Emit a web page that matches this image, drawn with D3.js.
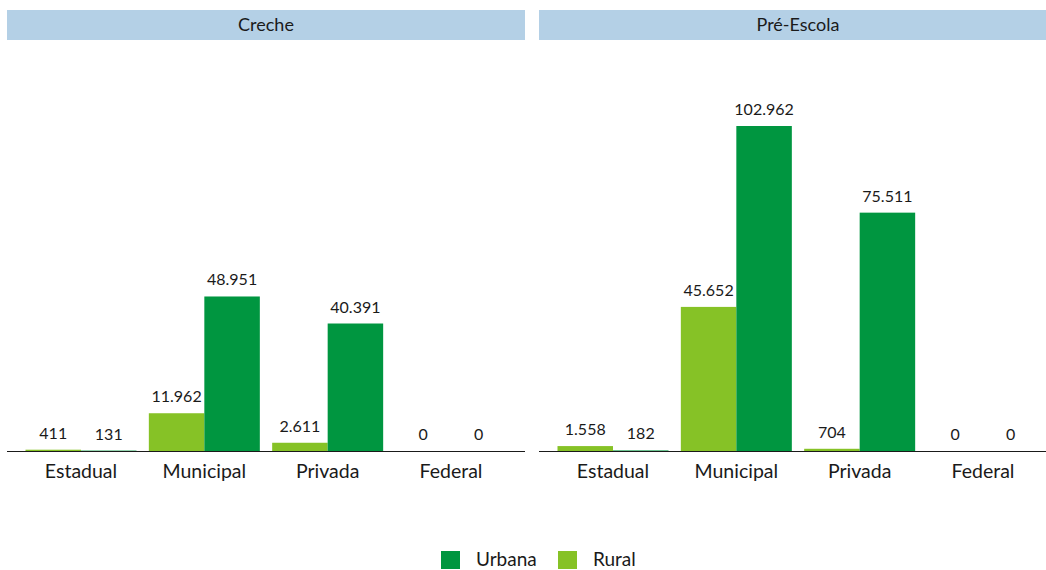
<!DOCTYPE html>
<html>
<head>
<meta charset="utf-8">
<script src="https://cdn.jsdelivr.net/npm/d3@7"></script>
<style>
  body { margin: 0; background: #fff; }
  text { font-family: Lato, "Open Sans", sans-serif; fill: #1a1a1a; }
</style>
</head>
<body>
<div id="chart"></div>
<script>
// data

var panels = ["Creche", "Pré-Escola"];
var categories = ["Estadual", "Municipal", "Privada", "Federal"];
var series = ["Rural", "Urbana"];
var legendOrder = ["Urbana", "Rural"];

var crecheRural = [411, 11962, 2611, 0];
var crecheUrbana = [131, 48951, 40391, 0];
var preRural = [1558, 45652, 704, 0];
var preUrbana = [182, 102962, 75511, 0];

var values = {
    "Creche": { "Rural": crecheRural, "Urbana": crecheUrbana },
    "Pré-Escola": { "Rural": preRural, "Urbana": preUrbana }
};

// sizes

var W = 1046, H = 570;
var panelLeft = [7, 539],
    panelWidth = 518,
    stripTop = 10,
    stripHeight = 30,
    baseline = 451;

var color = d3.scaleOrdinal()
    .domain(series)
    .range(["#86c226", "#009640"]);

var maxVal = d3.max(panels, function(p) {
    return d3.max(series, function(s) { return d3.max(values[p][s]); });
});

var y = d3.scaleLinear()
    .domain([0, maxVal])
    .range([baseline, 126]);

// number formatting with dot as thousands separator
var locale = d3.formatLocale({ decimal: ",", thousands: ".", grouping: [3], currency: ["R$", ""] });
var fmt = locale.format(",d");

var svg = d3.select("#chart").append("svg")
    .attr("width", W)
    .attr("height", H);

panels.forEach(function(p, i) {
    var g = svg.append("g")
        .attr("transform", "translate(" + panelLeft[i] + ",0)");

    // strip
    g.append("rect")
        .attr("x", 0)
        .attr("y", stripTop)
        .attr("width", panelWidth)
        .attr("height", stripHeight)
        .attr("fill", "#b4d0e6");

    g.append("text")
        .attr("x", panelWidth / 2)
        .attr("y", stripTop + stripHeight / 2 + 6)
        .attr("text-anchor", "middle")
        .style("font-size", "18px")
        .text(p);

    // x scale like ggplot discrete expand 0.6, dodge width 0.9
    var step = panelWidth / (categories.length + 0.2);
    var x0 = d3.scaleBand()
        .domain(categories)
        .range([0.1 * step, panelWidth - 0.1 * step])
        .paddingInner(0.1)
        .paddingOuter(0.05);

    var x1 = d3.scaleBand()
        .domain(series)
        .range([0, x0.bandwidth()]);

    var rows = [];
    categories.forEach(function(c, ci) {
        series.forEach(function(s) {
            rows.push({ cat: c, s: s, v: values[p][s][ci] });
        });
    });

    g.selectAll(".bar")
        .data(rows)
        .enter().append("rect")
        .attr("class", "bar")
        .attr("x", function(d) { return x0(d.cat) + x1(d.s); })
        .attr("width", x1.bandwidth())
        .attr("y", function(d) { return y(d.v); })
        .attr("height", function(d) { return baseline - y(d.v); })
        .attr("fill", function(d) { return color(d.s); });

    g.selectAll(".val")
        .data(rows)
        .enter().append("text")
        .attr("class", "val")
        .attr("x", function(d) { return x0(d.cat) + x1(d.s) + x1.bandwidth() / 2; })
        .attr("y", function(d) { return y(d.v) - 11; })
        .attr("text-anchor", "middle")
        .style("font-size", "16px")
        .text(function(d) { return fmt(d.v); });

    // x axis
    var axis = g.append("g")
        .attr("transform", "translate(0," + baseline + ")")
        .call(d3.axisBottom(x0).tickSize(0).tickPadding(13));
    axis.select(".domain")
        .attr("d", "M0,0.5H" + panelWidth)
        .attr("stroke", "#1a1a1a")
        .attr("stroke-width", 1.2);
    axis.selectAll("text")
        .style("font-size", "19.5px")
        .style("font-family", "Lato, 'Open Sans', sans-serif")
        .attr("fill", "#1a1a1a");
});

// legend
var legend = svg.append("g")
    .attr("transform", "translate(441,551)");

var legX = [0, 117];
legendOrder.forEach(function(s, i) {
    legend.append("rect")
        .attr("x", legX[i])
        .attr("y", 0)
        .attr("width", 19)
        .attr("height", 18)
        .attr("fill", color(s));
    legend.append("text")
        .attr("x", legX[i] + 35)
        .attr("y", 15)
        .style("font-size", "19px")
        .text(s);
});
</script>
</body>
</html>
